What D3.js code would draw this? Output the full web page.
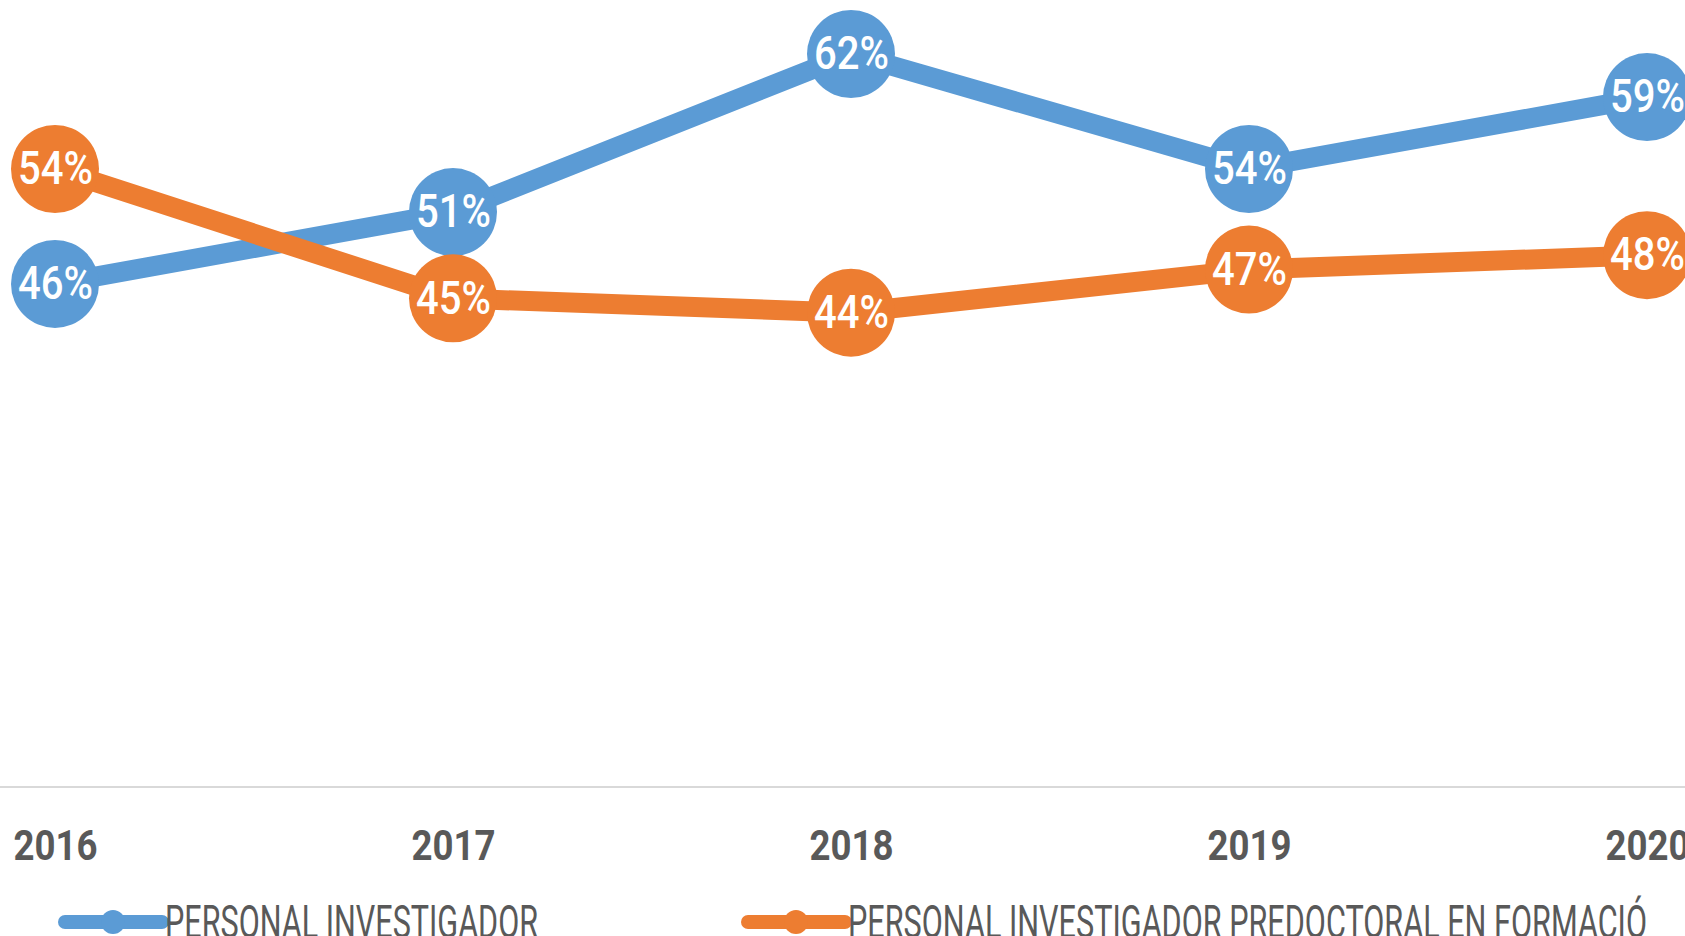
<!DOCTYPE html>
<html>
<head>
<meta charset="utf-8">
<script src="https://cdn.jsdelivr.net/npm/d3@7"></script>
<style>
  body { margin: 0; background: #fff; overflow: hidden; }
  svg { display: block; }
  text { font-family: Roboto, "Liberation Sans", sans-serif; }
</style>
</head>
<body>
<script>
// chart values
const years = ['2016', '2017', '2018', '2019', '2020']
const investigador = [0.46, 0.51, 0.62, 0.54, 0.59]
const predoctoral = [0.54, 0.45, 0.44, 0.47, 0.48]
const seriesNames = ['PERSONAL INVESTIGADOR', 'PERSONAL INVESTIGADOR PREDOCTORAL EN FORMACIÓ']

const width = 1685
, height = 936

const colors = ['#5B9BD5', '#ED7D31']

const svg = d3.select('body').append('svg')
    .attr('width', width)
    .attr('height', height)

const xScale = d3.scalePoint()
    .domain(years)
    .range([55, 1647])

const yScale = d3.scaleLinear()
    .domain([0.11, 0.62])
    .range([787, 54])

// baseline of the plot
svg.append('line')
    .attr('x1', 0)
    .attr('x2', width)
    .attr('y1', yScale(0.11))
    .attr('y2', yScale(0.11))
    .attr('stroke', '#d9d9d9')
    .attr('stroke-width', 2)

// year labels (the font is narrow in the original, so squeeze them)
const xAxis = svg.append('g')
    .attr('transform', 'translate(0,' + yScale(0.11) + ')')
    .call(d3.axisBottom(xScale).tickSize(0).tickPadding(0))
xAxis.select('.domain').remove()
xAxis.selectAll('text')
    .attr('y', 73)
    .attr('dy', 0)
    .attr('textLength', 84)
    .attr('lengthAdjust', 'spacingAndGlyphs')
    .style('font-size', '43px')
    .style('font-weight', 'bold')
    .style('font-family', 'Roboto, "Liberation Sans", sans-serif')
    .attr('fill', '#595959')

const line = d3.line()
    .x((d, i) => xScale(years[i]))
    .y(d => yScale(d))

const allSeries = [investigador, predoctoral]

allSeries.forEach(function(values, k) {
  const g = svg.append('g')

  g.append('path')
      .datum(values)
      .attr('d', line)
      .attr('fill', 'none')
      .attr('stroke', colors[k])
      .attr('stroke-width', 20)
      .attr('stroke-linejoin', 'round')

  g.selectAll('circle').data(values)
      .enter()
      .append('circle')
          .attr('cx', (d, i) => xScale(years[i]))
          .attr('cy', d => yScale(d))
          .attr('r', 44)
          .attr('fill', colors[k])

  g.selectAll('.lbl').data(values)
      .enter()
      .append('text')
          .attr('class', 'lbl')
          .attr('x', (d, i) => xScale(years[i]) - 37)
          .attr('y', d => yScale(d))
          .attr('dy', '0.33em')
          .attr('textLength', 75)
          .attr('lengthAdjust', 'spacingAndGlyphs')
          .attr('fill', '#fff')
          .style('font-size', '46px')
          .style('font-weight', 500)
          .text(d => Math.round(d * 100) + '%')
})

// legend
const legendX = [65, 748]
const legendLen = [373, 799]
const legend = svg.selectAll('.legend').data(seriesNames)
    .enter()
    .append('g')
    .attr('class', 'legend')
    .attr('transform', (d, i) => 'translate(' + legendX[i] + ',922)')

legend.append('line')
    .attr('x1', 0)
    .attr('x2', 97)
    .attr('stroke', (d, i) => colors[i])
    .attr('stroke-width', 14)
    .attr('stroke-linecap', 'round')

legend.append('circle')
    .attr('cx', 48)
    .attr('r', 12)
    .attr('fill', (d, i) => colors[i])

legend.append('text')
    .attr('x', 100)
    .attr('y', 16)
    .attr('fill', '#595959')
    .style('font-size', '47px')
    .attr('textLength', (d, i) => legendLen[i])
    .attr('lengthAdjust', 'spacingAndGlyphs')
    .text(d => d)
</script>
</body>
</html>
